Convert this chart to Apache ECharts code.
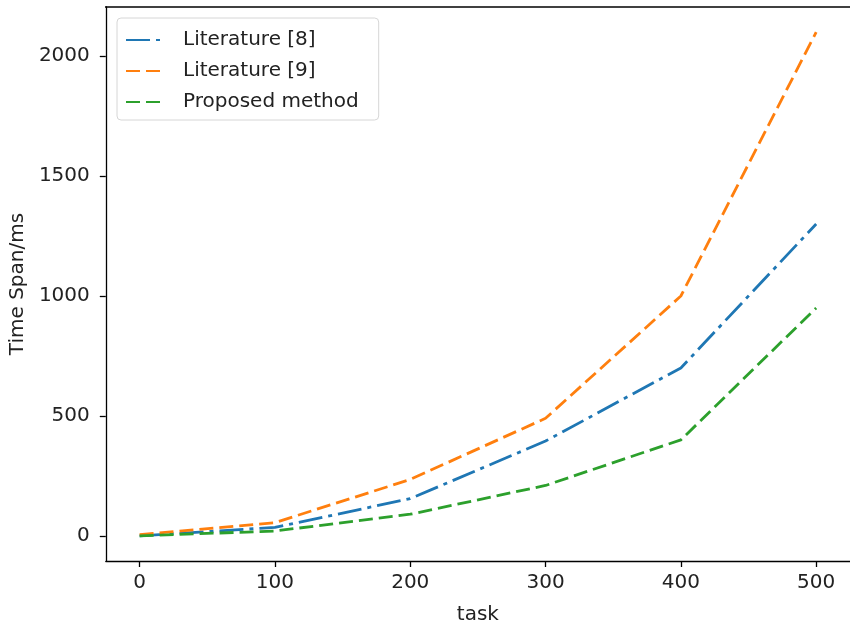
<!DOCTYPE html>
<html>
<head>
<meta charset="UTF-8">
<title>Time Span vs task</title>
<script src="https://cdn.jsdelivr.net/npm/echarts@6.0.0/dist/echarts.min.js"></script>
<style>
  html, body { margin: 0; padding: 0; background: #fff; }
  #chart { width: 850px; height: 630px; }
</style>
</head>
<body>
<div id="chart"></div>
<script>
// data
const tasks = [0, 100, 200, 300, 400, 500];
const literature8 = [0, 35, 155, 395, 700, 1300];
const literature9 = [5, 55, 235, 490, 1000, 2100];
const proposed = [0, 20, 90, 210, 400, 950];
const seriesNames = ['Literature [8]', 'Literature [9]', 'Proposed method'];
const xTicks = [0, 100, 200, 300, 400, 500];
const yTicks = [0, 500, 1000, 1500, 2000];

const font = 'DejaVu Sans';
const chart = echarts.init(document.getElementById('chart'));

function pairs(values) {
  return tasks.map((t, i) => [t, values[i]]);
}

function lineSeries(name, values, color, dash) {
  return {
    name: name,
    type: 'line',
    data: pairs(values),
    symbol: 'none',
    lineStyle: { color: color, width: 2.8, type: dash },
    itemStyle: { color: color }
  };
}

const tickStyle = { color: '#000', width: 1.3 };
const labelStyle = { fontFamily: font, fontSize: 20, color: '#222', formatter: v => String(v) };

chart.setOption({
  animation: false,
  grid: { left: 105, top: 7, width: 748, height: 556, containLabel: false },
  legend: {
    left: 117,
    top: 18,
    orient: 'vertical',
    itemWidth: 40,
    itemHeight: 14,
    itemGap: 11,
    padding: [12, 20, 8, 8],
    backgroundColor: '#fff',
    borderColor: '#d6d6d6',
    borderWidth: 1,
    borderRadius: 4,
    itemStyle: { opacity: 0 },
    textStyle: { fontFamily: font, fontSize: 20, color: '#222', padding: [0, 0, 0, 12] },
    data: seriesNames
  },
  xAxis: {
    type: 'value',
    min: -25,
    max: 525,
    name: 'task',
    nameLocation: 'middle',
    nameGap: 44,
    nameTextStyle: { fontFamily: font, fontSize: 20, color: '#222' },
    axisLine: { onZero: false, lineStyle: tickStyle },
    axisTick: { show: true, length: 6, lineStyle: tickStyle, customValues: xTicks },
    axisLabel: Object.assign({ customValues: xTicks, margin: 12 }, labelStyle),
    splitLine: { show: false }
  },
  yAxis: {
    type: 'value',
    min: -105,
    max: 2205,
    name: 'Time Span/ms',
    nameLocation: 'middle',
    nameGap: 77,
    nameTextStyle: { fontFamily: font, fontSize: 20, color: '#222' },
    axisLine: { show: true, onZero: false, lineStyle: tickStyle },
    axisTick: { show: true, length: 6, lineStyle: tickStyle, customValues: yTicks },
    axisLabel: Object.assign({ customValues: yTicks, margin: 16 }, labelStyle),
    splitLine: { show: false }
  },
  graphic: [{
    // top spine of the axes box
    type: 'line',
    shape: { x1: 105, y1: 7, x2: 850, y2: 7 },
    style: { stroke: '#000', lineWidth: 1.3 },
    silent: true
  }],
  series: [
    lineSeries(seriesNames[0], literature8, '#1f77b4', [24, 6, 4, 6]),
    lineSeries(seriesNames[1], literature9, '#ff7f0e', [14, 6]),
    lineSeries(seriesNames[2], proposed, '#2ca02c', [14, 6])
  ]
});
</script>
</body>
</html>
